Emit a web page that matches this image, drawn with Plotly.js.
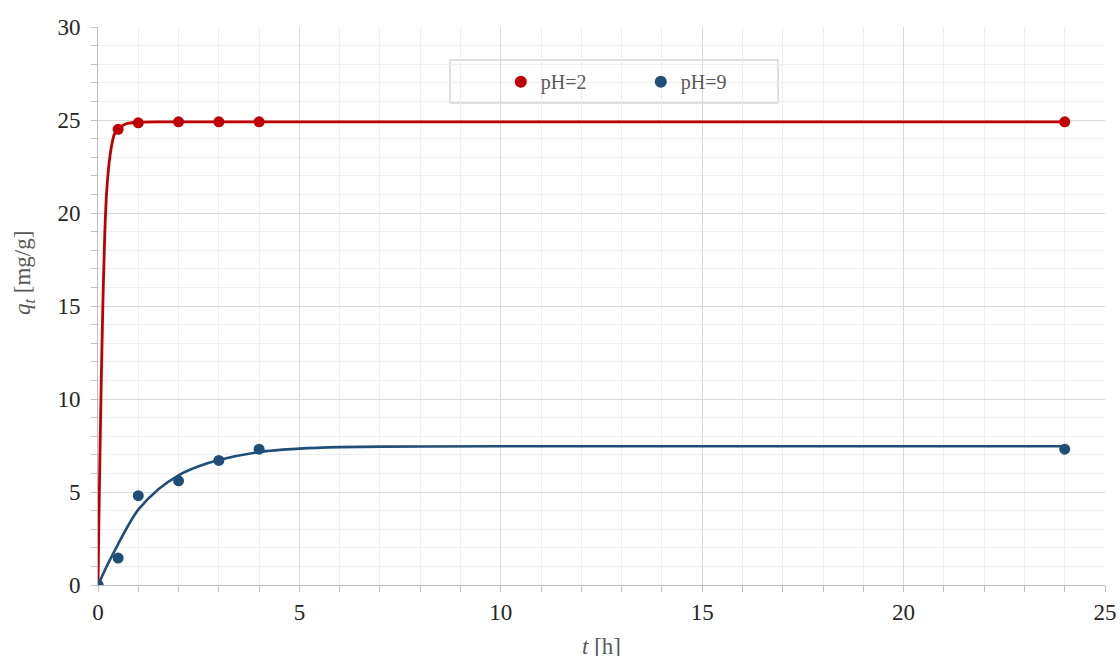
<!DOCTYPE html>
<html>
<head>
<meta charset="utf-8">
<script src="https://cdn.plot.ly/plotly-3.0.1.min.js"></script>
<style>html,body{margin:0;padding:0;background:#fff;}#chart{width:1120px;height:656px;}</style>
</head>
<body>
<div id="chart"></div>
<script>
// Measured data points
const tData = [0, 0.5, 1, 2, 3, 4, 24];
const qPH2 = [0, 24.5, 24.85, 24.9, 24.9, 24.9, 24.9];
const qPH9 = [0, 1.45, 4.8, 5.6, 6.7, 7.3, 7.3];

// Fitted curves
const tFit2 = [0, 0.02, 0.05, 0.08, 0.12, 0.17, 0.22, 0.3, 0.4, 0.5, 0.7, 1, 1.5, 2, 24];
const qFit2 = [0, 3.2, 7.2, 10.8, 15.0, 19.0, 21.3, 23.1, 24.2, 24.55, 24.8, 24.88, 24.9, 24.9, 24.9];
const tFit9 = [0, 0.25, 0.5, 0.75, 1, 1.5, 2, 2.5, 3, 4, 5, 6, 8, 10, 24];
const qFit9 = [0, 1.15, 2.2, 3.2, 4.05, 5.15, 5.9, 6.38, 6.72, 7.15, 7.33, 7.41, 7.45, 7.46, 7.46];

const seriesNames = ['pH=2', 'pH=9'];
const RED = '#c00000', BLUE = '#1f4e79';
const SERIF = '"Liberation Serif", "Times New Roman", serif';

const traces = [
  {x: tFit2, y: qFit2, mode: 'lines', line: {color: RED, width: 2.8, shape: 'spline', smoothing: 0.5}, showlegend: false, hoverinfo: 'skip'},
  {x: tFit9, y: qFit9, mode: 'lines', line: {color: BLUE, width: 2.6, shape: 'spline', smoothing: 0.8}, showlegend: false, hoverinfo: 'skip'},
  {x: tData, y: qPH2, mode: 'markers', name: seriesNames[0], marker: {color: RED, size: 11}},
  {x: tData, y: qPH9, mode: 'markers', name: seriesNames[1], marker: {color: BLUE, size: 11}}
];

const tickFont = {family: SERIF, size: 23, color: '#262626'};
const layout = {
  width: 1120, height: 656,
  margin: {l: 98, r: 15, t: 27, b: 71},
  paper_bgcolor: '#fff', plot_bgcolor: '#fff',
  showlegend: true,
  legend: {
    orientation: 'h', x: 0.4, xanchor: 'left', y: 0.902, yanchor: 'middle',
    bgcolor: 'rgba(0,0,0,0)', borderwidth: 0,
    font: {family: SERIF, size: 20, color: '#595959'},
    entrywidth: 95, entrywidthmode: 'pixels', itemsizing: 'constant'
  },
  xaxis: {
    range: [0, 25], dtick: 5, tick0: 0,
    showline: true, linecolor: '#bfbfbf', linewidth: 1,
    ticks: 'outside', ticklen: 6, tickcolor: '#bfbfbf',
    showgrid: true, gridcolor: '#d9d9d9', gridwidth: 1,
    zeroline: false, tickfont: tickFont,
    minor: {dtick: 1, showgrid: true, gridcolor: '#efefef', ticks: 'outside', ticklen: 6, tickcolor: '#bfbfbf'}
  },
  yaxis: {
    range: [0, 30], dtick: 5, tick0: 0,
    showline: true, linecolor: '#bfbfbf', linewidth: 1,
    ticks: 'outside', ticklen: 6, tickcolor: '#bfbfbf',
    showgrid: true, gridcolor: '#d9d9d9', gridwidth: 1,
    zeroline: false, tickfont: tickFont, ticklabelstandoff: 6,
    minor: {dtick: 1, showgrid: true, gridcolor: '#efefef', ticks: 'outside', ticklen: 6, tickcolor: '#bfbfbf'}
  },
  shapes: [
    {type: 'rect', xref: 'paper', yref: 'paper', x0: 0.3496, x1: 0.6753, y0: 0.8638, y1: 0.9409,
     line: {color: '#bfbfbf', width: 1}, fillcolor: '#ffffff', layer: 'below'}
  ],
  annotations: [
    {xref: 'paper', yref: 'paper', x: -0.074, y: 0.56, xanchor: 'center', yanchor: 'middle', textangle: -90, showarrow: false,
     text: '<i>q<sub>t</sub></i> [mg/g]', font: {family: SERIF, size: 23, color: '#595959'}},
    {xref: 'paper', yref: 'paper', x: 0.5, y: -0.084, xanchor: 'center', yanchor: 'top', showarrow: false,
     text: '<i>t</i> [h]', font: {family: SERIF, size: 23, color: '#595959'}}
  ]
};

Plotly.newPlot('chart', traces, layout, {displayModeBar: false, staticPlot: true});
</script>
</body>
</html>
